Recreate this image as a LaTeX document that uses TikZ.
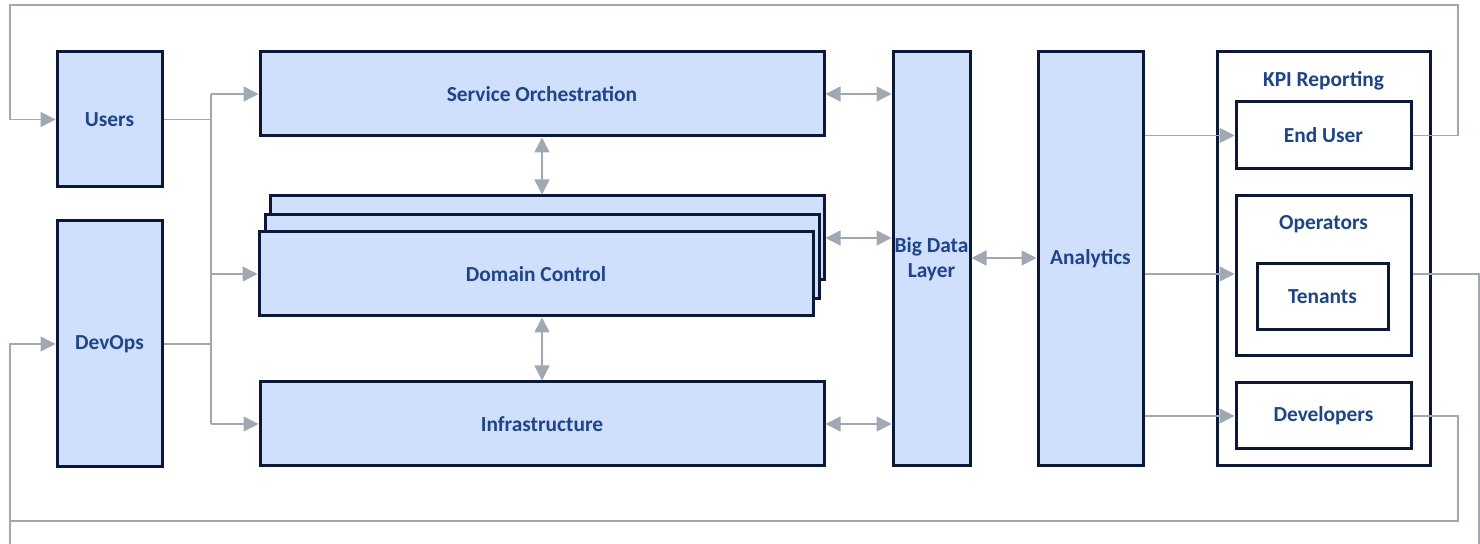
\documentclass[tikz,border=0pt]{standalone}
\usepackage{fontspec}
\setmainfont{Carlito}
\usetikzlibrary{arrows.meta}
\definecolor{boxfill}{RGB}{208,224,252}
\definecolor{boxline}{RGB}{10,24,60}
\definecolor{boxtext}{RGB}{28,68,145}
\definecolor{wire}{RGB}{160,168,180}
\begin{document}
\begin{tikzpicture}[
  x=0.5pt, y=-0.5pt,
  block/.style={draw=boxline, line width=1.5pt, fill=boxfill, text=boxtext,
    font=\bfseries\fontsize{10.7}{12.5}\selectfont, align=center, inner sep=0pt},
  panel/.style={block, fill=white},
  title/.style={text=boxtext, font=\bfseries\fontsize{10.7}{12.5}\selectfont, inner sep=0pt},
  line/.style={draw=wire, line width=0.75pt},
  flow/.style={line, -{Triangle[length=7.5pt,width=7.5pt]}},
  both/.style={line, {Triangle[length=7.5pt,width=7.5pt]}-{Triangle[length=7.5pt,width=7.5pt]}}
]
  \useasboundingbox (0,0) rectangle (1480,544);

  % left column
  \node[block, minimum width=52.5pt, minimum height=67.5pt] (users) at (109.5,119.5) {Users};
  \node[block, minimum width=52.5pt, minimum height=123pt] (devops) at (109.5,344) {DevOps};

  % middle stack
  \node[block, minimum width=282pt, minimum height=42pt] (orch) at (542,94) {Service Orchestration};
  \node[block, minimum width=277pt, minimum height=42pt] (domb) at (547,238) {};
  \node[block, minimum width=277pt, minimum height=42pt] (domm) at (542,257) {};
  \node[block, minimum width=277pt, minimum height=42pt] (domf) at (536,274) {Domain Control};
  \node[block, minimum width=282pt, minimum height=42pt] (infra) at (542,424) {Infrastructure};

  \node[block, minimum width=38.5pt, minimum height=207pt] (bdl) at (931.5,259) {Big Data\\Layer};
  \node[block, minimum width=52.5pt, minimum height=207pt] (ana) at (1090.5,259) {Analytics};

  % reporting
  \node[panel, minimum width=106.5pt, minimum height=207pt] (kpi) at (1323.5,259) {};
  \node[title] (kpilbl) at (1323.5,81) {KPI Reporting};
  \node[panel, minimum width=87.5pt, minimum height=33.5pt] (enduser) at (1323.5,135.5) {End User};
  \node[panel, minimum width=87.5pt, minimum height=80pt] (ops) at (1323.5,276) {};
  \node[title] (opslbl) at (1323.5,224) {Operators};
  \node[panel, minimum width=65.5pt, minimum height=33pt] (tenants) at (1322.5,297) {Tenants};
  \node[panel, minimum width=87.5pt, minimum height=33pt] (devs) at (1323.5,416) {Developers};

  % inputs
  \coordinate (bus) at (211,0);
  \draw[line] (users.east) -- (bus |- users.east);
  \draw[line] (devops.east) -- (bus |- devops.east);
  \draw[line] (bus |- orch.west) -- (bus |- infra.west);
  \draw[flow] (bus |- orch.west) -- (orch.west);
  \draw[flow] (bus |- domf.west) -- (domf.west);
  \draw[flow] (bus |- infra.west) -- (infra.west);

  \draw[both] (orch.south) -- (orch.south |- domb.north);
  \draw[both] (infra.north) -- (infra.north |- domf.south);
  \draw[both] (orch.east) -- (bdl.west |- orch.east);
  \draw[both] (domb.east) -- (bdl.west |- domb.east);
  \draw[both] (infra.east) -- (bdl.west |- infra.east);
  \draw[both] (bdl.east |- 0,258) -- (ana.west |- 0,258);

  \draw[flow] (ana.east |- enduser.west) -- (enduser.west);
  \draw[flow] (ana.east |- 0,274) -- (ops.west |- 0,274);
  \draw[flow] (ana.east |- devs.west) -- (devs.west);

  % feedback loops
  \coordinate (topR) at (1458,5);
  \coordinate (topL) at (10,5);
  \coordinate (lowR) at (1458,521);
  \coordinate (lowL) at (10,521);
  \coordinate (edgeL) at (10,544);
  \coordinate (edgeR) at (1479,544);
  \draw[flow] (enduser.east) -| (topR) -- (topL) |- (users.west);
  \draw[line] (devs.east) -| (lowR) -- (lowL);
  \draw[flow] (edgeL) |- (devops.west);
  \draw[line] (ops.east |- 0,274) -| (edgeR);
\end{tikzpicture}
\end{document}
